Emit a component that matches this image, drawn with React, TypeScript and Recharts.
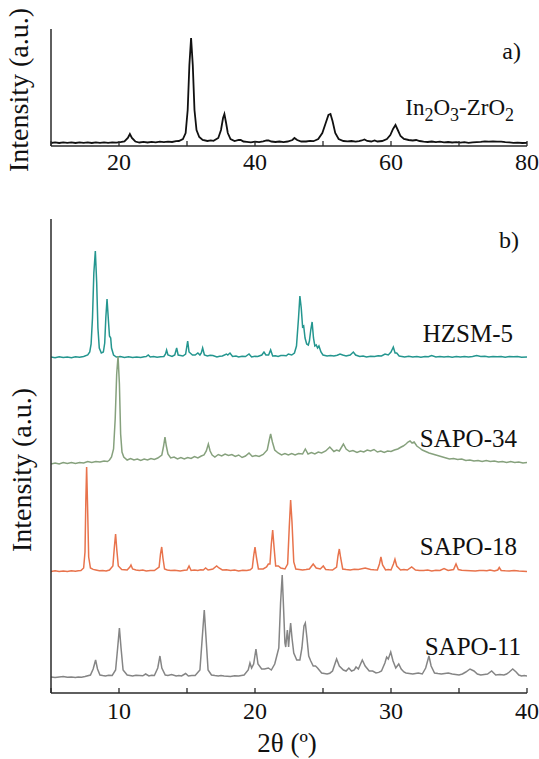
import React from 'react';
import { LineChart, Line, XAxis, YAxis } from 'recharts';

// ---------- Panel a) In2O3-ZrO2 : [2θ, intensity] ----------
const IN2O3_ZRO2: [number, number][] = [
  [10,2],[10.6,2.6],[11.2,2],[11.8,2.7],[12.4,2.1],[13,2.6],[13.6,2],[14.2,2.7],[14.8,2.2],[15.4,2.6],
  [16,2],[16.6,2.7],[17.2,2.2],[17.8,2.6],[18.4,2.1],[19,2.7],[19.6,2.3],[20.2,2.8],
  [20.8,3.5],[21.3,7],[21.6,11],[21.9,7],[22.4,3.5],[23,2.5],[23.6,3.1],[24.2,2.5],[24.8,3.2],
  [25.4,2.7],[26,3.3],[26.6,2.8],[27.2,3.4],[27.8,3],[28.4,3.8],[28.8,4],[29.4,6],[29.8,12],
  [30.1,35],[30.35,80],[30.6,107],[30.85,80],[31.1,35],[31.4,15],[31.8,8],[32.3,5],[33,4],
  [33.5,4.6],[33.9,4.2],[34.6,7],[35.0,15],[35.3,27],[35.5,31],[35.75,22],[36.0,12],[36.4,6],
  [37.0,4],[37.6,5],[37.9,5],[38.3,3.5],[38.8,3.2],[39.4,2.7],[40,3.3],[40.6,2.8],[41.2,3.6],
  [41.7,4.5],[42,4.5],[42.4,3.5],[43,3],[43.6,3.5],[44.2,2.9],[44.8,3.5],[45.5,5],[45.8,7],
  [46.2,5],[46.8,3.5],[47.5,3.5],[48.1,4.1],[48.6,3.8],[49.3,6],[49.9,12],[50.4,22],[50.8,30],
  [51.1,31],[51.4,24],[51.8,12],[52.3,6],[53,4],[53.6,3.6],[54.2,4],[54.8,3.4],[55.3,3.9],
  [55.7,4.5],[56.1,5.5],[56.5,4],[57.1,3.5],[57.6,4.5],[58,3.5],[58.7,4],[59.4,6],[59.9,10],
  [60.3,16],[60.66,20],[61.0,15],[61.4,9],[61.9,6],[62.6,5],[63.2,4.5],[63.7,5],[64.2,4],
  [64.8,3.4],[65.4,3],[66,3.5],[66.6,2.8],[67.2,3.3],[67.8,2.6],[68.4,3],[69,2.5],[69.6,2.9],
  [70.2,2.4],[70.8,2.8],[71.4,2.1],[72,2.6],[72.6,2.9],[73.2,3.2],[73.8,3.6],[74.4,3.3],
  [75,3.7],[75.6,3.3],[76.2,3.4],[76.8,2.8],[77.4,2.7],[78,2.2],[78.6,2.4],[79.3,2],[80,2.2],
];
const A_OFFSET = 1;
const A_X_TICKS = [10, 20, 30, 40, 50, 60, 70, 80];
const A_X_LABELS = [20, 40, 60, 80];

// ---------- Panel b) zeolites : [2θ, intensity above own baseline] ----------
const HZSM5: [number, number][] = [
  [5.0,1],[5.3,0.3],[5.6,1.2],[5.9,0.5],[6.2,1],[6.5,0.3],[6.8,1.2],[7.1,0.7],[7.4,1.5],[7.7,3],
  [7.85,6],[7.95,14],[8.05,40],[8.15,85],[8.26,107],[8.36,75],[8.45,30],[8.55,10],[8.7,5],
  [8.85,6],[8.95,15],[9.03,40],[9.12,59],[9.22,38],[9.3,22],[9.39,20],[9.45,10],[9.6,3],[9.8,1],
  [10.1,1.4],[10.4,0.5],[10.7,1.2],[11.0,0.5],[11.3,1.1],[11.6,0.6],[11.85,1.2],[12.0,1.5],
  [12.15,3],[12.3,1],[12.55,1.4],[12.8,0.8],[13.05,1.3],[13.3,1.5],[13.42,4],[13.5,8],[13.6,3],
  [13.9,1.5],[14.1,3],[14.24,10],[14.35,3],[14.7,2],[14.9,4],[15.05,17],[15.15,6],[15.4,3],
  [15.6,3],[15.8,5],[15.95,3],[16.05,5],[16.15,10],[16.28,3],[16.5,2],[16.7,2.8],[16.9,2.5],
  [17.2,1],[17.4,1.8],[17.6,2],[17.9,4],[18.0,3],[18.16,5],[18.35,1.5],[18.6,2],[18.8,1],
  [19.05,1.8],[19.3,1.5],[19.56,4],[19.75,1],[20.0,1.8],[20.2,1.5],[20.5,3],[20.66,6],[20.8,3],
  [21.0,3],[21.15,8],[21.3,2],[21.5,2.2],[21.7,1.5],[21.9,2.4],[22.1,2.5],[22.3,2.2],[22.45,4],
  [22.7,3],[22.9,5],[23.05,12],[23.2,40],[23.3,62],[23.4,50],[23.5,31],[23.58,32],[23.68,20],
  [23.8,14],[23.92,13],[24.0,17],[24.1,28],[24.2,36],[24.3,20],[24.4,12],[24.5,13],[24.6,10],
  [24.7,12],[24.85,6],[25.0,3],[25.3,2],[25.55,2.6],[25.8,2],[26.05,2.8],[26.25,4],[26.45,3],
  [26.7,2],[27.0,3],[27.23,6],[27.4,3],[27.7,1.5],[27.95,2],[28.2,1],[28.5,1.8],[28.8,1.5],
  [29.05,2.2],[29.3,2],[29.56,4],[29.8,3],[30.0,6],[30.17,11],[30.3,5],[30.42,5],[30.6,2],
  [30.8,1.6],[31.0,1],[31.3,1.8],[31.6,1],[31.9,1.5],[32.2,0.8],[32.5,1.5],[32.75,1.2],
  [32.99,2.5],[33.3,1],[33.6,1.6],[33.9,1],[34.2,1.5],[34.5,0.8],[34.8,1.4],[35.1,1],[35.4,1.6],
  [35.7,1],[36.0,1.5],[36.3,2.5],[36.6,1.5],[36.9,1.8],[37.2,1],[37.5,1.6],[37.8,1.2],[38.1,1.5],
  [38.4,0.8],[38.7,1.4],[39.0,1.2],[39.3,1.5],[39.6,0.8],[40,1],
];
const SAPO34: [number, number][] = [
  [5.0,0],[5.3,1],[5.6,0],[5.9,1.5],[6.2,0.5],[6.5,1.5],[6.8,0.5],[7.1,1.5],[7.4,1],[7.7,2.5],
  [8.0,1.5],[8.3,2.5],[8.6,2],[8.9,3],[9.15,2.5],[9.3,4],[9.45,7],[9.6,15],[9.72,45],[9.83,90],
  [9.93,108],[10.03,80],[10.12,30],[10.22,12],[10.35,7],[10.6,4],[10.85,5.5],[11.1,4],[11.35,5],
  [11.6,3.5],[11.85,5],[12.1,4],[12.35,5.5],[12.6,4.5],[12.85,6],[13.15,9],[13.28,18],[13.38,27],
  [13.48,18],[13.6,10],[13.8,6],[14.05,7],[14.3,5],[14.55,6.5],[14.8,5],[15.05,6.5],[15.3,5.5],
  [15.55,7.5],[15.8,6],[16.05,8],[16.25,9],[16.42,13],[16.57,20],[16.7,13],[16.85,9],[17.05,7],
  [17.3,9.5],[17.55,8],[17.8,10],[18.05,8.5],[18.3,9.5],[18.55,7.5],[18.8,9],[19.05,6.5],
  [19.3,8],[19.56,11],[19.8,7.5],[20.05,8.5],[20.3,7.5],[20.6,9.5],[20.9,14],[21.05,24],
  [21.15,30],[21.28,22],[21.45,14],[21.7,11],[21.95,9],[22.2,10.5],[22.45,9],[22.7,10.5],
  [22.95,9],[23.2,10.5],[23.5,10],[23.7,15],[23.9,10],[24.15,11.5],[24.4,10],[24.65,12],
  [24.9,11],[25.2,13],[25.5,17],[25.8,12.5],[26.0,14],[26.2,13],[26.5,20],[26.7,15],[26.95,12.5],
  [27.2,13.5],[27.5,11.5],[27.75,13],[28.0,12],[28.25,14],[28.5,13],[28.75,14.5],[29.0,12],
  [29.25,13],[29.5,11.5],[29.75,13],[30.0,12.5],[30.25,14],[30.5,15],[30.75,17],[30.9,18],
  [31.1,20],[31.25,22],[31.4,23],[31.55,21],[31.7,22],[31.9,18],[32.1,16],[32.3,14],[32.55,12.5],
  [32.8,11],[33.05,10],[33.3,9],[33.55,8],[33.8,7],[34.05,6],[34.3,5],[34.6,5.5],[34.9,4.5],
  [35.2,5],[35.5,3.5],[35.8,4],[36.1,3],[36.4,3.5],[36.7,2.5],[37.0,3.5],[37.3,2.5],[37.6,3],
  [37.9,2],[38.2,2.5],[38.5,1.5],[38.8,2.5],[39.1,1.5],[39.4,2],[39.7,1],[40,1.5],
];
const SAPO18: [number, number][] = [
  [5.0,0.5],[5.3,1.2],[5.6,0.6],[5.9,1.1],[6.2,0.4],[6.5,1.2],[6.8,0.8],[7.0,1.3],[7.2,1.5],
  [7.4,4],[7.5,20],[7.56,70],[7.62,105],[7.69,65],[7.77,15],[7.9,4],[8.1,2.6],[8.3,2],[8.55,1.2],
  [8.8,1.5],[9.05,1],[9.3,2],[9.55,6],[9.66,25],[9.75,38],[9.84,22],[9.95,6],[10.2,2.5],[10.6,2],
  [10.8,5],[10.88,7],[11.0,3],[11.25,2],[11.5,1.5],[11.75,1.9],[12.0,1],[12.3,1.6],[12.6,1.5],
  [12.95,5],[13.05,18],[13.14,25],[13.23,14],[13.35,3],[13.55,2],[13.8,1.5],[14.1,1.8],[14.5,1],
  [14.8,1.7],[15.0,2],[15.15,6],[15.3,1.5],[15.55,2],[15.8,1.5],[16.0,2.2],[16.2,2],[16.37,4],
  [16.55,2],[16.75,2.6],[16.9,3],[17.18,6],[17.35,4],[17.6,2],[17.9,2.3],[18.2,1.5],[18.5,2],
  [18.8,1],[19.1,1.8],[19.4,1.5],[19.65,2.2],[19.8,4],[19.9,16],[20.0,25],[20.1,15],[20.25,3],
  [20.6,3],[20.85,5],[20.98,8],[21.1,8],[21.2,28],[21.3,42],[21.4,25],[21.52,6],[21.72,6],
  [21.9,4],[22.2,3],[22.4,8],[22.52,45],[22.62,72],[22.72,50],[22.85,10],[23.0,3],[23.25,2.6],
  [23.5,2],[23.75,2.4],[24.0,3],[24.28,8],[24.5,4],[24.8,3],[25.02,6],[25.2,2.5],[25.45,2.2],
  [25.7,2],[26.0,5],[26.1,16],[26.2,23],[26.3,14],[26.45,3],[26.7,2.4],[27.0,2],[27.3,2.7],
  [27.6,2.5],[28.1,4],[28.5,2.5],[28.75,2.2],[29.0,2],[29.15,8],[29.26,15],[29.38,7],[29.6,2],
  [29.8,2.5],[30.0,2],[30.18,8],[30.29,12.7],[30.42,6],[30.7,2],[30.95,2.6],[31.2,2],[31.52,5],
  [31.8,2],[32.1,1.6],[32.4,1.5],[32.7,1.9],[33.0,1],[33.3,1.7],[33.6,1.5],[33.9,3.5],[34.2,1.5],
  [34.6,2.5],[34.78,8],[34.95,2.5],[35.2,1.8],[35.5,1.5],[35.85,1.2],[36.2,1],[36.5,1.6],
  [36.8,1.5],[37.05,1.2],[37.28,2],[37.6,1],[37.85,2],[37.96,4.5],[38.1,1.5],[38.4,1.2],
  [38.7,1],[39.05,1.4],[39.4,1],[39.7,0.8],[40,0.5],
];
const SAPO11: [number, number][] = [
  [5.0,1],[5.3,0.4],[5.6,1.1],[5.9,1.5],[6.2,0.7],[6.5,1],[6.8,0.5],[7.0,1],[7.25,0.8],[7.5,1.5],
  [7.9,3],[8.1,9],[8.28,18],[8.42,9],[8.6,3],[8.8,2.4],[9.0,2],[9.25,2.8],[9.5,2.5],[9.75,8],
  [9.9,30],[10.03,50],[10.15,30],[10.3,8],[10.6,3],[10.8,2.5],[11.0,2],[11.25,2.7],[11.5,2.5],
  [11.75,2.2],[11.96,4],[12.2,2],[12.4,2.7],[12.6,2.5],[12.85,10],[13.01,22],[13.15,10],[13.4,3],
  [13.6,2.6],[13.87,3.5],[14.2,2],[14.4,2.5],[14.6,2],[14.9,4.5],[15.1,2],[15.35,2.6],[15.6,2.5],
  [15.95,8],[16.12,40],[16.27,68],[16.4,40],[16.55,8],[16.8,3],[17.05,2.4],[17.3,2],[17.5,2.6],
  [17.72,2],[17.95,1.8],[18.2,1.5],[18.5,2.2],[18.8,2],[19.0,2.6],[19.2,3],[19.5,8],[19.63,15],
  [19.75,10],[19.9,14],[20.07,29],[20.22,14],[20.49,9],[20.7,9],[20.98,10],[21.2,8],[21.45,14],
  [21.6,22],[21.75,30],[21.88,75],[22.0,103],[22.1,70],[22.2,35],[22.26,31],[22.32,40],[22.38,48],
  [22.47,31],[22.55,45],[22.62,55],[22.72,40],[22.85,25],[23.07,18],[23.3,18],[23.45,30],
  [23.6,52],[23.7,55],[23.82,40],[23.95,22],[24.1,17],[24.28,12],[24.45,12],[24.6,10],[24.9,5],
  [25.1,4.6],[25.3,4],[25.5,4.8],[25.7,7],[26.0,19],[26.2,12],[26.5,8],[26.7,7],[26.9,10],
  [27.1,7],[27.3,8],[27.43,11],[27.6,9],[27.89,18],[28.1,12],[28.4,7],[28.65,7],[28.9,5],
  [29.1,5.6],[29.3,7],[29.55,15],[29.68,21],[29.8,19],[29.98,26],[30.15,17],[30.35,10],[30.57,14],
  [30.75,9],[30.95,6],[31.1,5],[31.35,4.6],[31.6,4],[31.8,4.6],[32.01,5],[32.3,4],[32.55,10],
  [32.79,22],[32.95,12],[33.2,5],[33.45,4.4],[33.7,4],[33.95,4.5],[34.21,5],[34.5,4],[34.75,3.6],
  [35.0,3],[35.25,4],[35.5,6],[35.81,9],[36.1,7],[36.35,4],[36.6,3],[36.85,3.6],[37.1,4],[37.4,7],
  [37.7,3],[38.0,3.4],[38.3,3],[38.5,4],[38.7,6],[38.95,9],[39.2,6],[39.4,3],[39.6,2],[39.8,2.6],[40,2],
];
const B_SERIES = [HZSM5, SAPO34, SAPO18, SAPO11];
const B_NAMES = ['HZSM-5', 'SAPO-34', 'SAPO-18', 'SAPO-11'];
const B_OFFSETS = [335, 229, 121, 15];
const B_COLORS = ['#24968f', '#86a17d', '#e8734c', '#858585'];
const B_X_TICKS = [5, 10, 15, 20, 25, 30, 35, 40];
const B_X_LABELS = [10, 20, 30, 40];

const FONT = 'Liberation Serif, Times New Roman, Times, serif';
const AXIS = '#2a2a2a';

const makeBottomTick = (labels: number[], dy: number) => (props: any) => {
  const { x, y, payload } = props;
  return (
    <g>
      <line x1={x} x2={x} y1={y} y2={y - 5} stroke={AXIS} strokeWidth={1.3} />
      {labels.includes(payload.value) && (
        <text x={x} y={y + dy} textAnchor="middle" fill="#111"
          style={{ fontFamily: FONT, fontSize: 24 }}>
          {payload.value}
        </text>
      )}
    </g>
  );
};
const topTick = (props: any) => {
  const { x, y } = props;
  return <line x1={x} x2={x} y1={y} y2={y + 5} stroke={AXIS} strokeWidth={1.3} />;
};

const txt = (size: number): React.CSSProperties => ({ fontFamily: FONT, fontSize: size });

export default function App() {
  const aData = IN2O3_ZRO2.map(([x, y]) => ({ x, y: y + A_OFFSET }));
  const bData = B_SERIES.map((s, i) => s.map(([x, y]) => ({ x, y: y + B_OFFSETS[i] })));

  return (
    <div style={{ position: 'absolute', left: 0, top: 0, width: 539, height: 759, background: '#fff' }}>
      <div style={{ position: 'absolute', left: 0, top: 0 }}>
        <LineChart width={539} height={200} margin={{ top: 29, right: 12, bottom: 0, left: 0 }}>
          <XAxis dataKey="x" type="number" domain={[10, 80]} ticks={A_X_TICKS} interval={0}
            height={54} tickSize={0} tickMargin={0} tickLine={false}
            axisLine={{ stroke: AXIS, strokeWidth: 1.5 }} tick={makeBottomTick(A_X_LABELS, 24)} allowDataOverflow />
          <XAxis xAxisId="t" orientation="top" dataKey="x" type="number" domain={[10, 80]} ticks={A_X_TICKS}
            interval={0} height={0} tickSize={0} tickMargin={0} tickLine={false}
            axisLine={{ stroke: AXIS, strokeWidth: 1.5 }} tick={topTick} allowDataOverflow />
          <YAxis type="number" domain={[0, 117]} width={51} tick={false} tickLine={false}
            axisLine={{ stroke: AXIS, strokeWidth: 1.5 }} allowDataOverflow />
          <YAxis yAxisId="r" orientation="right" type="number" domain={[0, 117]} width={0} tick={false}
            tickLine={false} axisLine={{ stroke: AXIS, strokeWidth: 1.5 }} />
          <Line data={aData} dataKey="y" type="linear" stroke="#111" strokeWidth={1.8} dot={false}
            isAnimationActive={false} />
        </LineChart>
      </div>
      <div style={{ position: 'absolute', left: 0, top: 190 }}>
        <LineChart width={539} height={569} margin={{ top: 29, right: 12, bottom: 0, left: 0 }}>
          <XAxis dataKey="x" type="number" domain={[5, 40]} ticks={B_X_TICKS} interval={0}
            height={66} tickSize={0} tickMargin={0} tickLine={false}
            axisLine={{ stroke: AXIS, strokeWidth: 1.5 }} tick={makeBottomTick(B_X_LABELS, 26)} allowDataOverflow />
          <XAxis xAxisId="t" orientation="top" dataKey="x" type="number" domain={[5, 40]} ticks={B_X_TICKS}
            interval={0} height={0} tickSize={0} tickMargin={0} tickLine={false}
            axisLine={{ stroke: AXIS, strokeWidth: 1.5 }} tick={topTick} allowDataOverflow />
          <YAxis type="number" domain={[0, 474]} width={51} tick={false} tickLine={false}
            axisLine={{ stroke: AXIS, strokeWidth: 1.5 }} allowDataOverflow />
          <YAxis yAxisId="r" orientation="right" type="number" domain={[0, 474]} width={0} tick={false}
            tickLine={false} axisLine={{ stroke: AXIS, strokeWidth: 1.5 }} />
          {bData.map((d, i) => (
            <Line key={B_NAMES[i]} name={B_NAMES[i]} data={d} dataKey="y" type="linear"
              stroke={B_COLORS[i]} strokeWidth={1.5} dot={false} isAnimationActive={false} />
          ))}
        </LineChart>
      </div>
      <svg width={539} height={759} style={{ position: 'absolute', left: 0, top: 0, pointerEvents: 'none' }}
        fill="#111">
        <text transform="translate(28,90) rotate(-90)" textAnchor="middle" style={txt(28)}>Intensity (a.u.)</text>
        <text transform="translate(31,470) rotate(-90)" textAnchor="middle" style={txt(28)}>Intensity (a.u.)</text>
        <text x={521} y={59} textAnchor="end" style={txt(24)}>a)</text>
        <text x={519} y={248} textAnchor="end" style={txt(24)}>b)</text>
        <text x={514} y={115} textAnchor="end" style={txt(23)}>
          In<tspan style={txt(18)} dy={6}>2</tspan><tspan dy={-6}>O</tspan><tspan style={txt(18)} dy={6}>3</tspan>
          <tspan dy={-6}>-ZrO</tspan><tspan style={txt(18)} dy={6}>2</tspan>
        </text>
        <text x={513} y={342} textAnchor="end" style={txt(25)}>{B_NAMES[0]}</text>
        <text x={517} y={447} textAnchor="end" style={txt(25)}>{B_NAMES[1]}</text>
        <text x={517} y={555} textAnchor="end" style={txt(25)}>{B_NAMES[2]}</text>
        <text x={521} y={655} textAnchor="end" style={txt(25)}>{B_NAMES[3]}</text>
        <text x={287} y={752} textAnchor="middle" style={txt(27)}>2θ (º)</text>
      </svg>
    </div>
  );
}
